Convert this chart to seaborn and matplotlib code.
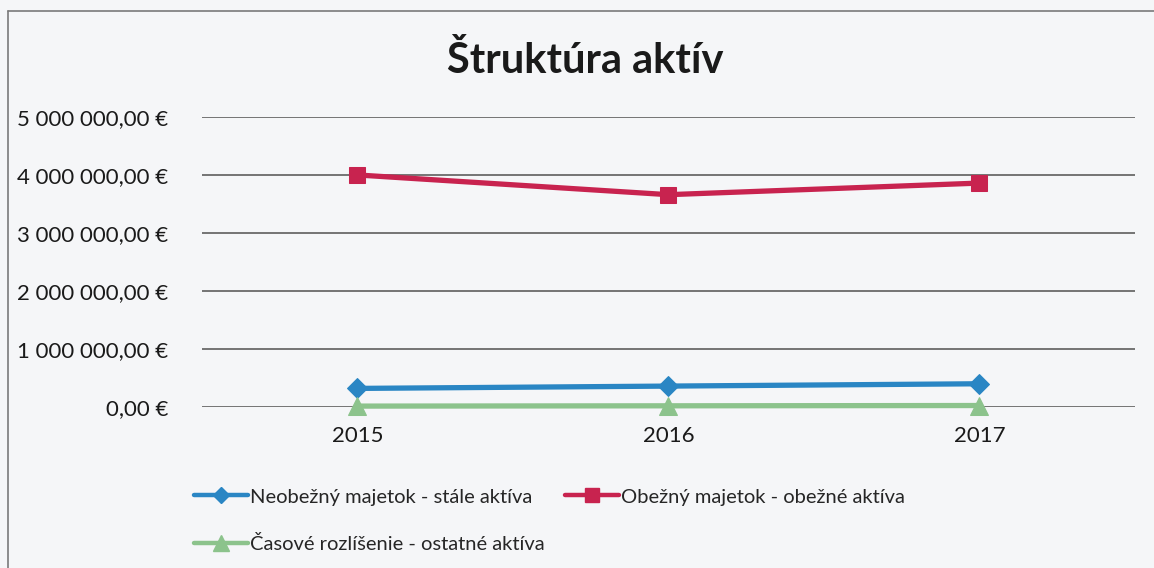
import matplotlib.pyplot as plt
import matplotlib.ticker as mticker
from matplotlib.lines import Line2D
import numpy as np
import pandas as pd
import seaborn as sns

years = ["2015", "2016", "2017"]
neobezny = [320000, 360000, 400000]
obezny = [4000000, 3660000, 3860000]
casove = [15000, 20000, 25000]

labels = ["Neobežný majetok - stále aktíva",
          "Obežný majetok - obežné aktíva",
          "Časové rozlíšenie - ostatné aktíva"]
colors = ["#2a86c4", "#c8234f", "#8cc38c"]
markers = ["D", "s", "^"]
msizes = [10, 12, 13]

sns.set_style("white")
plt.rcParams["font.family"] = ["Lato", "DejaVu Sans"]

bg = "#f5f6f8"
fig = plt.figure(figsize=(11.54, 5.68), dpi=100)
fig.patch.set_facecolor(bg)
ax = fig.add_axes([0.175, 0.2835, 0.8085, 0.5106])
ax.set_facecolor(bg)

handles = []
for vals, lab, c, m, ms in zip([neobezny, obezny, casove], labels, colors, markers, msizes):
    sns.lineplot(x=years, y=vals, color=c, marker=m, markersize=ms,
                 markeredgecolor=c, linewidth=3.8, ax=ax, sort=False,
                 zorder=3, clip_on=False)
    handles.append(Line2D([0], [0], color=c, marker=m, markersize=ms * 0.85,
                          markeredgecolor=c, linewidth=3.2, label=lab))

ax.set_xlim(-0.5, 2.5)
ax.set_ylim(0, 5000000)
ax.set_yticks(np.arange(0, 5000001, 1000000))
ax.yaxis.set_major_formatter(mticker.FuncFormatter(
    lambda v, p: f"{v:,.2f}".replace(",", " ").replace(".", ",") + " €"))
ax.grid(axis="y", color="#6a6a6a", linewidth=1.3, zorder=0)
ax.grid(axis="x", visible=False)
for s in ax.spines.values():
    s.set_visible(False)
ax.tick_params(axis="both", length=0, labelsize=16, colors="#1a1a1a")
ax.tick_params(axis="y", pad=24)
ax.tick_params(axis="x", pad=14)
ax.set_xlabel("")
ax.set_ylabel("")

fig.text(0.507, 0.894, "Štruktúra aktív", ha="center", va="center",
         fontsize=30, fontweight="bold", color="#1a1a1a")

leg = fig.legend(handles=[handles[0], handles[2], handles[1]], ncol=2,
                 loc="upper left", bbox_to_anchor=(0.152, 0.172), frameon=False,
                 fontsize=14.5, handlelength=2.7, handletextpad=0.1,
                 columnspacing=1.0, labelspacing=1.45)

# outer chart frame
fig.add_artist(Line2D([8 / 1154, 8 / 1154], [0, 1 - 11 / 568], color="#7a7a7a",
                      linewidth=1.2, transform=fig.transFigure))
fig.add_artist(Line2D([8 / 1154, 1], [1 - 11 / 568, 1 - 11 / 568], color="#7a7a7a",
                      linewidth=1.2, transform=fig.transFigure))

fig.savefig("out.png", dpi=100, facecolor=fig.get_facecolor())
